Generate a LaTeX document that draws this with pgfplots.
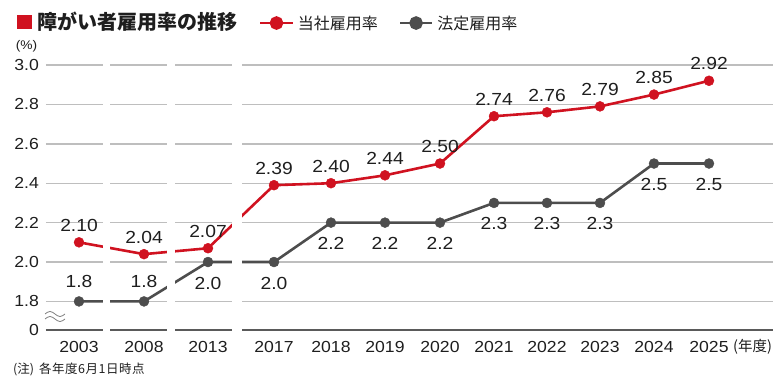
\documentclass[border=0pt]{standalone}
\usepackage{fontspec}
\setmainfont[FakeStretch=1.1]{Liberation Sans}
\newfontfamily\jp{Noto Sans CJK JP}
\usepackage{pgfplots}
\pgfplotsset{compat=1.18}
\definecolor{cred}{RGB}{208,18,32}
\definecolor{cgray}{RGB}{77,77,77}
\definecolor{cgrid}{RGB}{190,190,190}
\definecolor{caxis}{RGB}{90,90,90}
\definecolor{ctext}{RGB}{30,30,30}
\newcommand\lab{\fontsize{17.5}{17.5}\selectfont}
\begin{document}
\begin{tikzpicture}
\begin{axis}[
  scale only axis, width=727pt, height=265pt,
  xmin=46, xmax=773, ymin=1.655, ymax=3.0,
  clip=false,
  axis line style={draw=none},
  major tick length=0pt,
  ymajorgrids, grid style={cgrid, line width=1.4pt},
  ytick={1.655,1.8,2.0,2.2,2.4,2.6,2.8,3.0},
  yticklabels={0,1.8,2.0,2.2,2.4,2.6,2.8,3.0},
  xtick={79,144,208,274,331,385,440,494,547,600,654,709},
  xticklabels={2003,2008,2013,2017,2018,2019,2020,2021,2022,2023,2024,2025},
  tick label style={font=\fontsize{16}{16}\selectfont, text=ctext},
  yticklabel style={anchor=east, inner sep=0pt, xshift=-7pt},
  xticklabel style={anchor=north, inner sep=0pt, yshift=-11pt},
  /pgf/number format/assume math mode=true,
  legend columns=2,
  legend style={draw=none, fill=none, at={(axis cs:256,3.213)}, anchor=west,
    font=\jp\fontsize{16}{16}\selectfont, text=ctext,
    /tikz/every even column/.append style={column sep=19pt},
    /tikz/every odd column/.append style={column sep=2pt}},
  legend image code/.code={\draw[mark repeat=2,mark phase=2,#1] plot coordinates {(0pt,0pt) (16pt,0pt) (32pt,0pt)};},
]
\draw[caxis, line width=1.6pt] (axis cs:46,1.655) -- (axis cs:773,1.655);
% lines
\addplot[cred, line width=2.6pt, mark=none, forget plot] coordinates {
(79,2.10) (144,2.04) (208,2.07) (274,2.39) (331,2.40) (385,2.44) (440,2.50) (494,2.74) (547,2.76) (600,2.79) (654,2.85) (709,2.92)};
\addplot[cgray, line width=2.6pt, mark=none, forget plot] coordinates {
(79,1.8) (144,1.8) (208,2.0) (274,2.0) (331,2.2) (385,2.2) (440,2.2) (494,2.3) (547,2.3) (600,2.3) (654,2.5) (709,2.5)};
% break gaps
\fill[white] (axis cs:103,1.60) rectangle (axis cs:110,3.05);
\fill[white] (axis cs:167,1.60) rectangle (axis cs:175,3.05);
\fill[white] (axis cs:232,1.60) rectangle (axis cs:242,3.05);
% markers and labels
\addplot[only marks, mark=*, mark size=5pt, cred, forget plot,
  nodes near coords, point meta=explicit symbolic,
  every node near coord/.append style={anchor=center, yshift=17pt, text=ctext, font=\lab, inner sep=0pt}]
 coordinates {
(79,2.10)[2.10] (144,2.04)[2.04] (208,2.07)[2.07] (274,2.39)[2.39] (331,2.40)[2.40] (385,2.44)[2.44] (440,2.50)[2.50] (494,2.74)[2.74] (547,2.76)[2.76] (600,2.79)[2.79] (654,2.85)[2.85] (709,2.92)[2.92]};
\addplot[only marks, mark=*, mark size=5pt, cgray, forget plot,
  nodes near coords, point meta=explicit symbolic,
  every node near coord/.append style={anchor=center, yshift=20pt, text=ctext, font=\lab, inner sep=0pt}]
 coordinates {(79,1.8)[1.8] (144,1.8)[1.8]};
\addplot[only marks, mark=*, mark size=5pt, cgray, forget plot,
  nodes near coords, point meta=explicit symbolic,
  every node near coord/.append style={anchor=center, yshift=-21pt, text=ctext, font=\lab, inner sep=0pt}]
 coordinates {(208,2.0)[2.0] (274,2.0)[2.0] (331,2.2)[2.2] (385,2.2)[2.2] (440,2.2)[2.2] (494,2.3)[2.3] (547,2.3)[2.3] (600,2.3)[2.3] (654,2.5)[2.5] (709,2.5)[2.5]};
\addlegendimage{cred, line width=2.6pt, mark=*, mark size=5.5pt}
\addlegendentry{当社雇用率}
\addlegendimage{cgray, line width=2.6pt, mark=*, mark size=5.5pt}
\addlegendentry{法定雇用率}
\end{axis}
\begin{scope}[x=1pt, y=-1pt, shift={(-46pt,330pt)}]
\fill[cred] (17,15) rectangle (32,29);
\node[anchor=west, inner sep=0pt, text=ctext] at (37,21.5) {\jp\bfseries\fontsize{20}{20}\selectfont 障がい者雇用率の推移};
\node[anchor=center, inner sep=0pt, text=ctext] at (26.5,46) {\fontsize{12.5}{12.5}\selectfont (\%)};
\node[anchor=west, inner sep=0pt, text=ctext] at (733,347) {\jp\fontsize{14.5}{14.5}\selectfont (年度)};
\node[anchor=west, inner sep=0pt, text=ctext] at (13,369) {\jp\fontsize{12.5}{12.5}\selectfont (注)\hspace{5pt}各\kern0.5pt 年\kern0.5pt 度\kern0.5pt 6\kern0.5pt 月\kern0.5pt 1\kern0.5pt 日\kern0.5pt 時\kern0.5pt 点};
\draw[caxis!80, line width=0.8pt] (45,314) sin (50,311.5) cos (55,314) sin (60,316.5) cos (65,314);
\draw[caxis!80, line width=0.8pt] (45,319) sin (50,316.5) cos (55,319) sin (60,321.5) cos (65,319);
\pgfresetboundingbox
\path (0,0) rectangle (780,380);
\end{scope}
\end{tikzpicture}
\end{document}
